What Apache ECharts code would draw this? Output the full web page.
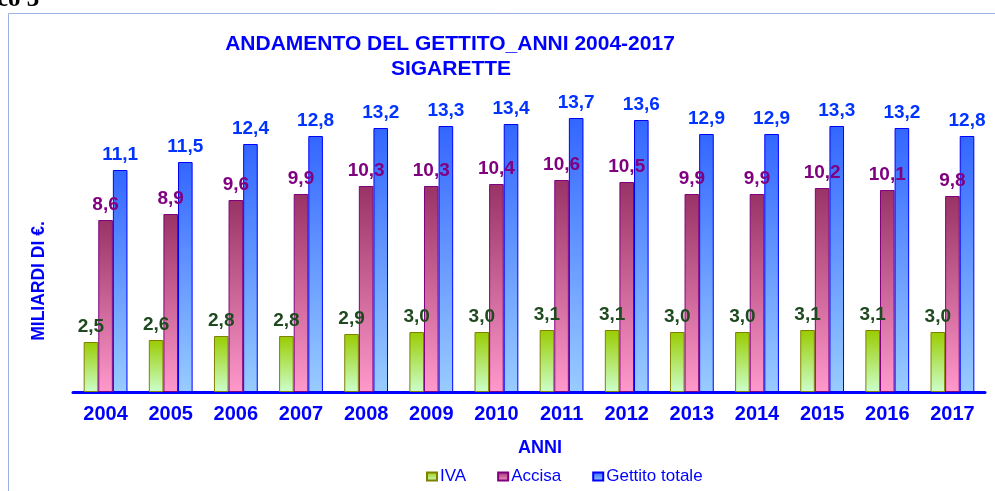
<!DOCTYPE html>
<html lang="it">
<head>
    <meta charset="UTF-8">
    <title>Gettito sigarette</title>
    <script src="https://cdn.jsdelivr.net/npm/echarts@6/dist/echarts.min.js"></script>
    <style>
        html,body{margin:0;padding:0;background:#fff}
        #chart{width:995px;height:491px}
    </style>
</head>
<body>
<div id="chart"></div>
<script>
// dati (miliardi di euro)
var anni=['2004','2005','2006','2007','2008','2009','2010','2011','2012','2013','2014','2015','2016','2017'];
var iva=[2.5,2.6,2.8,2.8,2.9,3.0,3.0,3.1,3.1,3.0,3.0,3.1,3.1,3.0];
var accisa=[8.6,8.9,9.6,9.9,10.3,10.3,10.4,10.6,10.5,9.9,9.9,10.2,10.1,9.8];
var gettito=[11.1,11.5,12.4,12.8,13.2,13.3,13.4,13.7,13.6,12.9,12.9,13.3,13.2,12.8];

var font='Liberation Sans';
var blu='#0000ff';

function grad(top,bottom){
    return new echarts.graphic.LinearGradient(0,0,0,1,[
        {offset:0,color:top},
        {offset:1,color:bottom}
    ]);
}
function fmt(p){
    return p.value.toFixed(1).replace('.',',');
}
function serie(nome,dati,top,bottom,bordo,colLabel){
    return {
        name:nome,
        type:'bar',
        data:dati,
        barWidth:14.6,
        barGap:'0%',
        itemStyle:{color:grad(top,bottom),borderColor:bordo,borderWidth:1},
        label:{
            show:true,
            position:'top',
            distance:6,
            formatter:fmt,
            color:colLabel,
            fontFamily:font,
            fontWeight:'bold',
            fontSize:19
        }
    };
}

var chart=echarts.init(document.getElementById('chart'));
var option={
    animation:false,
    grid:{left:73,right:10,top:72,bottom:99},
    legend:{
        data:['IVA','Accisa','Gettito totale'],
        left:421,
        top:463,
        itemWidth:10,
        itemHeight:8,
        itemGap:31,
        icon:'rect',
        textStyle:{color:blu,fontFamily:font,fontSize:17,padding:[0,0,0,-2]}
    },
    xAxis:{
        type:'category',
        data:anni,
        axisLine:{lineStyle:{color:blu,width:3}},
        axisTick:{show:false},
        axisLabel:{color:blu,fontFamily:font,fontWeight:'bold',fontSize:20,margin:12}
    },
    yAxis:{
        type:'value',
        min:0,
        max:16,
        show:false
    },
    graphic:[
        {type:'rect',shape:{x:8.5,y:13.5,width:1000,height:500},
         style:{fill:null,stroke:'#9ab3e3',lineWidth:1},silent:true},
        {type:'text',x:-3,y:12,
         style:{text:'co 3',fill:'#000',font:'bold 25px "Liberation Serif"',
                textAlign:'left',textVerticalAlign:'bottom'}},
        {type:'text',x:450,y:44,
         style:{text:'ANDAMENTO DEL GETTITO_ANNI 2004-2017',fill:blu,font:'bold 21px "Liberation Sans"',
                textAlign:'center',textVerticalAlign:'middle'}},
        {type:'text',x:451,y:69,
         style:{text:'SIGARETTE',fill:blu,font:'bold 21px "Liberation Sans"',
                textAlign:'center',textVerticalAlign:'middle'}},
        {type:'text',x:39,y:281,rotation:Math.PI/2,
         style:{text:'MILIARDI DI €.',fill:blu,font:'bold 17.5px "Liberation Sans"',
                textAlign:'center',textVerticalAlign:'middle'}},
        {type:'text',x:540,y:448,
         style:{text:'ANNI',fill:blu,font:'bold 18px "Liberation Sans"',
                textAlign:'center',textVerticalAlign:'middle'}}
    ],
    series:[
        serie('IVA',iva,'#99cc00','#ccffcc','#808000','#1f4a1f'),
        serie('Accisa',accisa,'#993366','#ff99cc','#800080','#800080'),
        serie('Gettito totale',gettito,'#3366ff','#99ccff','#0000ff','#0033ff')
    ]
};
chart.setOption(option);
</script>
</body>
</html>
